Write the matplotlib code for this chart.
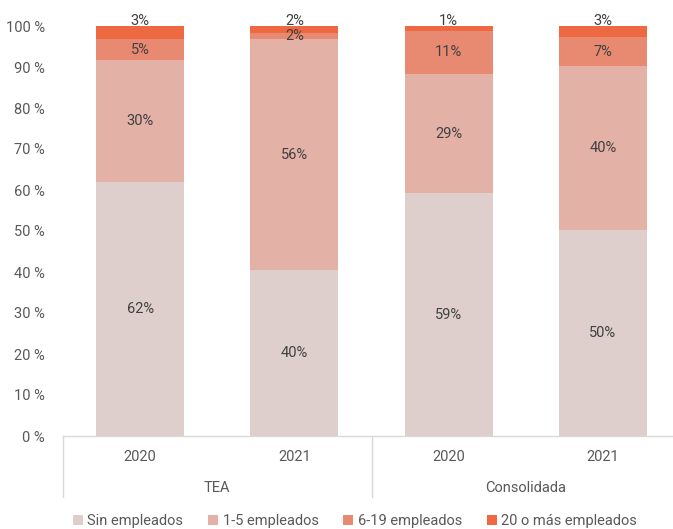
import matplotlib
matplotlib.use("Agg")
import matplotlib.pyplot as plt
import matplotlib.transforms as mtransforms
from matplotlib.patches import Patch
import numpy as np

plt.rcParams['font.family'] = ['Roboto', 'DejaVu Sans']

groups = ["TEA", "Consolidada"]
years = ["2020", "2021", "2020", "2021"]
series_names = ["Sin empleados", "1-5 empleados", "6-19 empleados", "20 o más empleados"]
sin_empleados = [62.0, 40.4, 59.2, 50.2]
emp_1_5 = [29.6, 56.4, 29.1, 40.0]
emp_6_19 = [5.2, 1.6, 10.6, 7.1]
emp_20_mas = [3.2, 1.6, 1.1, 2.7]
colors = ["#DECFCC", "#E4B1A7", "#E88A72", "#EE6842"]

series = [sin_empleados, emp_1_5, emp_6_19, emp_20_mas]

fig = plt.figure(figsize=(6.73, 5.29), dpi=100)
ax = fig.add_axes([63/673, 1-436/529, 617/673, 410/529])

x = np.arange(len(years))
bottom = np.zeros(len(years))
txtc = "#404040"
for si, (vals, c) in enumerate(zip(series, colors)):
    vals = np.array(vals)
    ax.bar(x, vals, bottom=bottom, width=0.57, color=c, edgecolor='none', zorder=2)
    for xi, v, b in zip(x, vals, bottom):
        lab = f"{int(round(v))}%"
        if si == len(series) - 1:
            ax.annotate(lab, (xi, 100), xytext=(0, -1.5), textcoords='offset points',
                        ha='center', va='bottom', fontsize=10.5, color=txtc, zorder=3)
        else:
            ax.text(xi, b + v/2, lab, ha='center', va='center', fontsize=10.5, color=txtc, zorder=3)
    bottom += vals

ax.set_xlim(-0.5, 3.5)
ax.set_ylim(0, 100)
ax.set_yticks(np.arange(0, 101, 10))
ax.set_yticklabels([f"{v} %" for v in range(0, 101, 10)], fontsize=10.5, color="#595959")
ax.tick_params(axis='y', length=0, pad=13)
ax.set_xticks([])
for s in ['top', 'right', 'left']:
    ax.spines[s].set_visible(False)
ax.spines['bottom'].set_color("#D9D9D9")
ax.spines['bottom'].set_linewidth(1.0)

# Multi-level category axis
trans = mtransforms.blended_transform_factory(ax.transData, ax.transAxes)
px = 1/410
for xi, yr in zip(x, years):
    ax.text(xi, -21*px, yr, transform=trans, ha='center', va='center', fontsize=10.5, color="#595959")
for gi, g in enumerate(groups):
    ax.text(2*gi + 0.5, -52*px, g, transform=trans, ha='center', va='center', fontsize=10.5, color="#595959")
for sx in [-0.5, 1.5]:
    ax.plot([sx, sx], [0, -61*px], transform=trans, color="#D9D9D9", lw=1.0, clip_on=False)

handles = [Patch(facecolor=c, edgecolor='none', label=n) for n, c in zip(series_names, colors)]
leg = fig.legend(handles=handles, loc='center', bbox_to_anchor=(355/673, 1-521/529), ncol=4,
                 frameon=False, fontsize=10.5, handlelength=0.7, handleheight=0.7,
                 handletextpad=0.3, columnspacing=1.7)
for t in leg.get_texts():
    t.set_color("#595959")

fig.savefig("out.png", dpi=100)
